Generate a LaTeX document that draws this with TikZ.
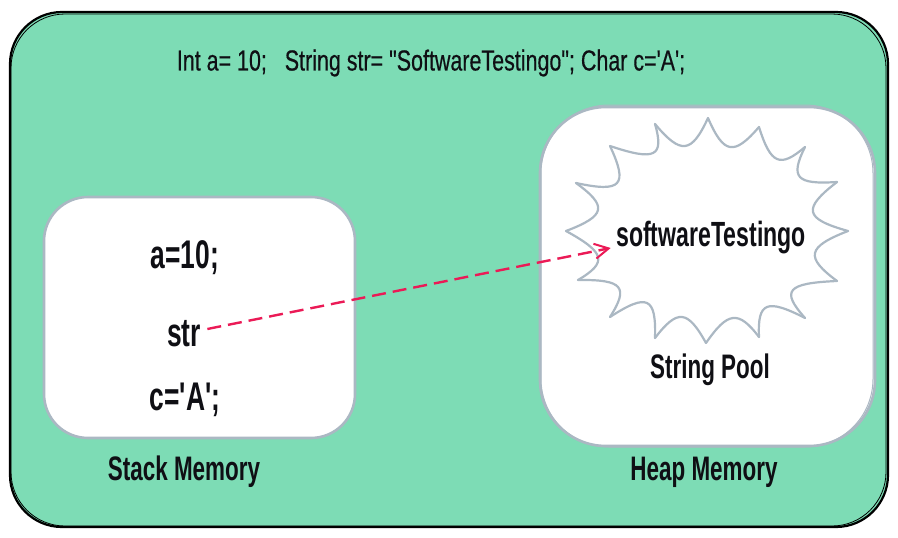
\documentclass[tikz,border=0pt]{standalone}
\usepackage{fontspec}
\newfontfamily\thinfont[FakeStretch=.74,FakeBold=.4]{Liberation Sans}
\newfontfamily\labelfont[FakeStretch=.66,BoldFont={Liberation Sans Bold}]{Liberation Sans}
\usetikzlibrary{arrows.meta,calc}
\definecolor{panelgreen}{HTML}{7DDCB5}
\definecolor{edgegray}{HTML}{ABB8C3}
\definecolor{pointerred}{HTML}{EB1A56}
\definecolor{inkblack}{HTML}{0F0F14}
\tikzset{
every picture/.style={
line width=1pt
},
memorybox/.style={draw=edgegray, fill=white, line width=2.6pt},
sketchline/.style={draw=edgegray, line width=1pt},
memtext/.style={text=inkblack, font=\labelfont\bfseries\fontsize{40}{42}\selectfont, inner sep=2pt},
boxtitle/.style={text=inkblack, font=\labelfont\bfseries\fontsize{34}{36}\selectfont, inner sep=2pt}
}

\begin{document}
\begin{tikzpicture}[x=1pt,y=-1pt]
\useasboundingbox (0,0) rectangle (898,538);

% outer panel
\draw [fill=panelgreen, draw=black, line width=2.2pt, rounded corners=52pt] (10,12) rectangle (888,527);
\draw [black, line width=.8pt, rounded corners=54pt] (11,14) rectangle (886,526);

% memory boxes
\draw [memorybox, rounded corners=44pt] (44,197) rectangle (355,438);
\draw [memorybox, rounded corners=66pt] (540,107) rectangle (875,446);
\draw [sketchline, rounded corners=68pt] (541,105) rectangle (873,447);

% burst
\foreach \x/\y [count=\ti] in {708/118, 759/127, 805/147, 837/182, 848/231, 837/281, 805/318, 759/337, 706/343, 655/338, 610/317, 578/280, 566/231, 576/183, 610/146, 655/124}{
  \coordinate (t\ti) at (\x,\y);
}
\foreach \x/\y [count=\vi] in {730/147, 777/159, 800/177, 813/212, 815/253, 793/290, 767/307, 733/318, 682/317, 647/303, 618/287, 598/257, 598/210, 617/183, 653/153, 685/146}{
  \coordinate (v\vi) at (\x,\y);
}
\foreach \i [evaluate=\i as \j using {int(mod(\i,16)+1)}] in {1,...,16}{
  \coordinate (bend) at ($(v\i)!-0.333!($(t\i)!.5!(t\j)$)$);
  \draw [edgegray, line width=2.2pt, line cap=round] (t\i) .. controls ($(bend)+.1*(t\i)-.1*(t\j)$) and ($(bend)-.1*(t\i)+.1*(t\j)$) .. (t\j);
}

% texts
\node [text=inkblack, font=\thinfont\fontsize{29}{31}\selectfont, inner sep=0pt] (code) at (431,63) {Int a= 10;\ \ \ String str= "SoftwareTestingo"; Char c='A';};
\node [memtext] (a) at (185,258) {a=10;};
\node [memtext] (str) at (184,334) {str};
\node [memtext] (c) at (185,400) {c='A';};
\node [boxtitle, font=\labelfont\bfseries\fontsize{35}{37}\selectfont] (swt) at (711,238) {softwareTestingo};
\node [boxtitle] (pool) at (710,370) {String Pool};
\node [boxtitle] (stack) at (184,472) {Stack Memory};
\node [boxtitle] (heap) at (704,472) {Heap Memory};

% pointer
\draw [pointerred, line width=2.4pt, dash pattern=on 14pt off 7pt, -{Straight Barb[length=14pt,width=15pt,line width=2pt]}] ([xshift=4pt,yshift=5pt]str.east) -- ([xshift=-3pt,yshift=-10pt]swt.west);

\end{tikzpicture}
\end{document}
